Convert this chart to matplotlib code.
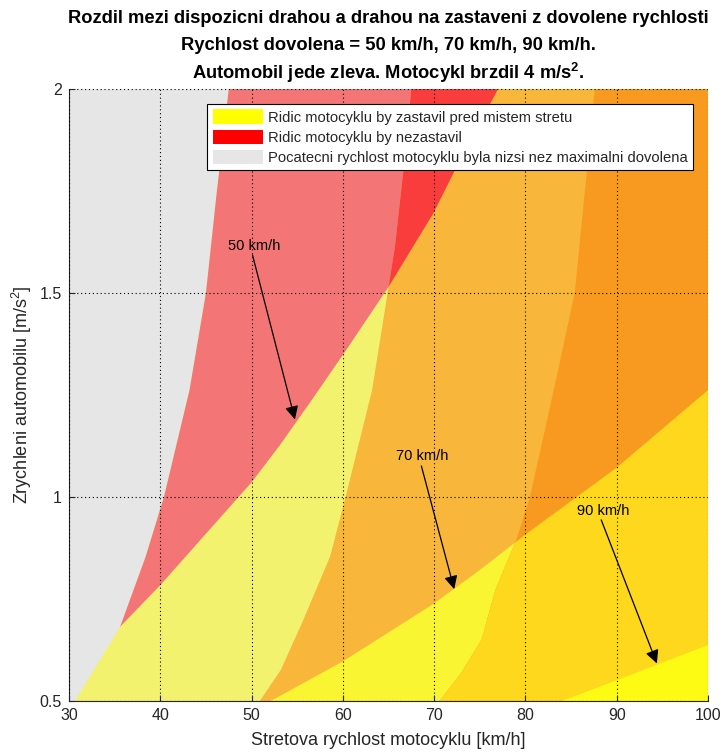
import matplotlib
matplotlib.use("Agg")
import matplotlib.pyplot as plt
from matplotlib.patches import Polygon, Patch

# boundary curves (v = collision speed km/h, a = car accel m/s^2)
# G = initial motorcycle speed equals the permitted speed
G50_V = [30.65, 32.5, 35.6, 38.4, 40.4, 43.2, 45.0, 46.2, 47.5]
G50_A = [0.5, 0.568, 0.682, 0.854, 1.0, 1.262, 1.5, 1.75, 2.0]
G70_V = [50.9, 53.2, 55.5, 58.6, 60.3, 63.2, 64.9, 65.7, 66.6, 67.5]
G70_A = [0.5, 0.576, 0.69, 0.854, 1.0, 1.262, 1.5, 1.613, 1.793, 2.0]
G90_V = [70.6, 73.0, 75.2, 76.7, 79.0, 80.5, 83.1, 85.4, 86.7, 87.6]
G90_A = [0.5, 0.57, 0.65, 0.772, 0.895, 1.0, 1.262, 1.5, 1.793, 2.0]
# S = motorcyclist stops exactly at the collision point
S50_V = [35.6, 40.0, 45.0, 50.0, 53.1, 56.6, 60.6, 65.0, 69.9, 72.1, 77.0]
S50_A = [0.682, 0.784, 0.91, 1.036, 1.127, 1.238, 1.368, 1.515, 1.695, 1.793, 2.0]
S70_V = [52.1, 60.0, 70.0, 75.0, 80.0, 90.0, 100.0]
S70_A = [0.5, 0.597, 0.739, 0.821, 0.908, 1.072, 1.262]
S90_V = [84.0, 90.0, 100.0]
S90_A = [0.5, 0.551, 0.637]

# labels / arrows: (text, text x, text y, tail x, tail y, head x, head y)
ARROWS = [
    ("50 km/h", 47.45, 1.616, 50.1, 1.593, 54.75, 1.19),
    ("70 km/h", 65.8, 1.101, 68.6, 1.076, 72.2, 0.774),
    ("90 km/h", 85.6, 0.966, 88.3, 0.944, 94.4, 0.592),
]

V_MIN, V_MAX = 30, 100
A_MIN, A_MAX = 0.5, 2.0
X_TICKS = [30, 40, 50, 60, 70, 80, 90, 100]
Y_TICKS = [0.5, 1, 1.5, 2]
Y_TICKLABELS = ["0.5", "1", "1.5", "2"]

LEGEND_LABELS = [
    "Ridic motocyklu by zastavil pred mistem stretu",
    "Ridic motocyklu by nezastavil",
    "Pocatecni rychlost motocyklu byla nizsi nez maximalni dovolena",
]

GRAY = "#e6e6e6"
PINK = "#f37575"
LIGHT_YELLOW = "#f3f26f"
BRIGHT_RED = "#f93c3c"
ORANGE = "#f8b73a"
DARK_ORANGE = "#f99a20"
YELLOW = "#f9f532"
GOLDEN = "#fdd81c"
BRIGHT_YELLOW = "#fdfa14"
TXT = "#262626"


def right_of(ax, vs, As):
    pts = list(zip(vs, As)) + [(V_MAX, A_MAX), (V_MAX, A_MIN)]
    return Polygon(pts, closed=True, transform=ax.transData)


def above(vs, As):
    return list(zip(vs, As)) + [(V_MIN, A_MAX), (V_MIN, As[0])]


def below(vs, As):
    return list(zip(vs, As)) + [(V_MAX, A_MIN)]


def paint(ax, pts, color, clip=None):
    p = Polygon(pts, closed=True, facecolor=color, edgecolor="none", zorder=1)
    ax.add_patch(p)
    if clip is not None:
        p.set_clip_path(clip)
    return p


def main():
    plt.rcParams["font.family"] = ["Liberation Sans", "DejaVu Sans"]
    plt.rcParams["mathtext.fontset"] = "custom"
    plt.rcParams["mathtext.rm"] = "Liberation Sans"
    plt.rcParams["mathtext.bf"] = "Liberation Sans:bold"

    fig = plt.figure(figsize=(7.22, 7.53), dpi=100)
    ax = fig.add_axes([0.0956, 0.0691, 0.885, 0.8127])
    ax.set_xlim(V_MIN, V_MAX)
    ax.set_ylim(A_MIN, A_MAX)
    ax.set_facecolor(GRAY)

    full_g50 = list(zip(G50_V, G50_A)) + [(V_MAX, A_MAX), (V_MAX, A_MIN)]
    full_g70 = list(zip(G70_V, G70_A)) + [(V_MAX, A_MAX), (V_MAX, A_MIN)]
    full_g90 = list(zip(G90_V, G90_A)) + [(V_MAX, A_MAX), (V_MAX, A_MIN)]

    # 50 km/h
    paint(ax, full_g50, LIGHT_YELLOW)
    paint(ax, above(S50_V, S50_A), PINK, right_of(ax, G50_V, G50_A))
    # 70 km/h
    paint(ax, full_g70, ORANGE)
    paint(ax, above(S50_V, S50_A), BRIGHT_RED, right_of(ax, G70_V, G70_A))
    paint(ax, below(S70_V, S70_A), YELLOW, right_of(ax, G70_V, G70_A))
    # 90 km/h
    paint(ax, full_g90, DARK_ORANGE)
    paint(ax, below(S70_V, S70_A), GOLDEN, right_of(ax, G90_V, G90_A))
    paint(ax, below(S90_V, S90_A), BRIGHT_YELLOW, right_of(ax, G90_V, G90_A))

    ax.set_xticks(X_TICKS)
    ax.set_yticks(Y_TICKS)
    ax.set_yticklabels(Y_TICKLABELS)
    ax.set_axisbelow(False)
    ax.grid(True, color="black", linestyle=(0, (1, 2.5)), linewidth=0.8)
    ax.tick_params(direction="in", length=4, labelsize=11.5, colors=TXT, pad=5)
    for side in ("top", "right"):
        ax.spines[side].set_visible(False)
    for side in ("left", "bottom"):
        ax.spines[side].set_color(TXT)
        ax.spines[side].set_linewidth(0.8)

    ax.set_xlabel("Stretova rychlost motocyklu [km/h]", fontsize=13, color=TXT)
    ax.set_ylabel(r"Zrychleni automobilu [m/s$^2$]", fontsize=13, color=TXT)
    ax.xaxis.set_label_coords(0.5, -0.064)
    ax.xaxis.label.set_va("center")
    ax.yaxis.set_label_coords(-0.074, 0.5)
    ax.yaxis.label.set_va("center")

    for label, tx, ty, x0, y0, x1, y1 in ARROWS:
        ax.text(tx, ty, label, fontsize=10.5, ha="left", va="center", zorder=5)
        ax.annotate(
            "", xy=(x1, y1), xytext=(x0, y0), zorder=5,
            arrowprops=dict(arrowstyle="-|>", color="black", lw=0.9,
                            mutation_scale=20, shrinkA=0, shrinkB=0),
        )

    handles = [
        Patch(facecolor="#ffff00", edgecolor="none"),
        Patch(facecolor="#ff0000", edgecolor="none"),
        Patch(facecolor=GRAY, edgecolor="none"),
    ]
    leg = ax.legend(
        handles, LEGEND_LABELS, loc="upper right", bbox_to_anchor=(0.976, 0.975),
        fontsize=10.6, frameon=True, fancybox=False, framealpha=1,
        edgecolor="black", handlelength=3.4, handleheight=1.1,
        handletextpad=0.35, labelspacing=0.36, borderpad=0.35, borderaxespad=0,
    )
    leg.get_frame().set_linewidth(0.8)
    leg.set_zorder(10)
    for t in leg.get_texts():
        t.set_color(TXT)

    cx = 0.538
    fig.text(cx, 0.976, "Rozdil mezi dispozicni drahou a drahou na zastaveni z dovolene rychlosti",
             ha="center", va="center", fontsize=13.2, fontweight="bold")
    fig.text(cx, 0.939, "Rychlost dovolena = 50 km/h, 70 km/h, 90 km/h.",
             ha="center", va="center", fontsize=13.2, fontweight="bold")
    fig.text(cx, 0.903, r"Automobil jede zleva. Motocykl brzdil 4 m/s$^{\mathbf{2}}$.",
             ha="center", va="center", fontsize=13.2, fontweight="bold")

    fig.savefig("out.png", dpi=100)
    plt.close(fig)


if __name__ == "__main__":
    main()
